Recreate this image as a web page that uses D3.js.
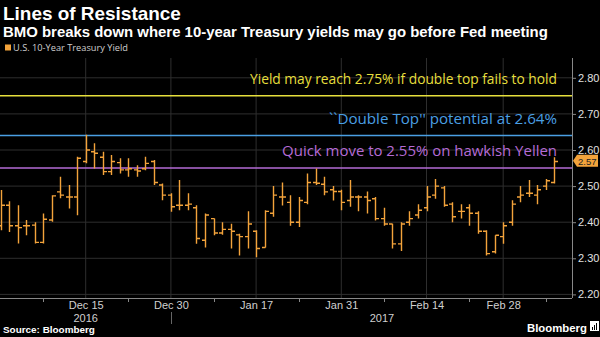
<!DOCTYPE html>
<html><head><meta charset="utf-8">
<script src="https://cdn.jsdelivr.net/npm/d3@7/dist/d3.min.js"></script>
<style>body{margin:0;background:#000;overflow:hidden}svg{display:block}</style>
</head><body><svg id="c" width="600" height="337"></svg>
<script>
// ---- data ----
const dates = ["2016-12-01","2016-12-02","2016-12-05","2016-12-06","2016-12-07","2016-12-08","2016-12-09","2016-12-12","2016-12-13","2016-12-14",
"2016-12-15","2016-12-16","2016-12-19","2016-12-20","2016-12-21","2016-12-22","2016-12-23","2016-12-27","2016-12-28","2016-12-29",
"2016-12-30","2017-01-03","2017-01-04","2017-01-05","2017-01-06","2017-01-09","2017-01-10","2017-01-11","2017-01-12","2017-01-13",
"2017-01-17","2017-01-18","2017-01-19","2017-01-20","2017-01-23","2017-01-24","2017-01-25","2017-01-26","2017-01-27","2017-01-30",
"2017-01-31","2017-02-01","2017-02-02","2017-02-03","2017-02-06","2017-02-07","2017-02-08","2017-02-09","2017-02-10","2017-02-13",
"2017-02-14","2017-02-15","2017-02-16","2017-02-17","2017-02-21","2017-02-22","2017-02-23","2017-02-24","2017-02-27","2017-02-28",
"2017-03-01","2017-03-02","2017-03-03","2017-03-06","2017-03-07","2017-03-08"];
const openY  = [2.39,2.447,2.39,2.39,2.392,2.344,2.406,2.484,2.47,2.47, 2.568,2.595,2.58,2.54,2.565,2.545,2.545,2.548,2.568,2.503,
2.475,2.447,2.447,2.44,2.35,2.41,2.37,2.38,2.365,2.36, 2.375,2.33,2.425,2.47,2.455,2.40,2.455,2.51,2.505,2.49,
2.485,2.46,2.47,2.47,2.465,2.41,2.395,2.34,2.40,2.42, 2.44,2.475,2.495,2.45,2.43,2.44,2.425,2.375,2.318,2.36,
2.40,2.47,2.48,2.475,2.50,2.51];
const highY  = [2.489,2.458,2.447,2.406,2.40,2.424,2.475,2.526,2.503,2.581, 2.642,2.619,2.595,2.586,2.577,2.577,2.558,2.581,2.572,2.507,
2.48,2.517,2.48,2.447,2.424,2.41,2.40,2.396,2.368,2.43, 2.378,2.433,2.50,2.51,2.475,2.47,2.535,2.549,2.526,2.50,
2.49,2.517,2.475,2.485,2.47,2.44,2.396,2.40,2.43,2.45, 2.50,2.52,2.50,2.455,2.45,2.45,2.43,2.378,2.364,2.40,
2.461,2.50,2.517,2.503,2.52,2.58];
const lowY   = [2.378,2.373,2.341,2.364,2.341,2.341,2.401,2.466,2.438,2.419, 2.563,2.549,2.531,2.531,2.535,2.526,2.526,2.544,2.503,2.461,
2.429,2.433,2.433,2.34,2.33,2.364,2.365,2.327,2.308,2.327, 2.303,2.33,2.415,2.446,2.39,2.387,2.45,2.503,2.475,2.46,
2.433,2.443,2.43,2.424,2.405,2.39,2.327,2.32,2.39,2.41, 2.43,2.465,2.443,2.40,2.41,2.39,2.368,2.308,2.313,2.34,
2.39,2.455,2.47,2.45,2.489,2.507];
const closeY = [2.447,2.39,2.385,2.39,2.344,2.408,2.473,2.475,2.47,2.577, 2.60,2.591,2.54,2.568,2.545,2.548,2.542,2.563,2.51,2.475,
2.443,2.447,2.45,2.355,2.42,2.37,2.38,2.375,2.36,2.395, 2.327,2.43,2.475,2.47,2.40,2.46,2.51,2.508,2.484,2.485,
2.455,2.47,2.47,2.46,2.41,2.395,2.34,2.395,2.41,2.433, 2.47,2.50,2.447,2.415,2.43,2.425,2.375,2.313,2.364,2.39,
2.45,2.475,2.48,2.49,2.515,2.568];
const yTicks = [2.20,2.30,2.40,2.50,2.60,2.70,2.80];
const xTickDates = ["2016-12-15","2016-12-30","2017-01-17","2017-01-31","2017-02-14","2017-02-28"];
const xTickLabels = ["Dec 15","Dec 30","Jan 17","Jan 31","Feb 14","Feb 28"];
const yearLabels = ["2016","2017"];
const refLevels = [2.75, 2.64, 2.55];
const refLabels = ["Yield may reach 2.75% if double top fails to hold","``Double Top'' potential at 2.64%","Quick move to 2.55% on hawkish Yellen"];
const refColors = ["#e6df3c","#4a9fe3","#b56bd6"];
const lastValue = 2.57;

// ---- layout ----
const svg = d3.select("#c");
svg.append("rect").attr("width",600).attr("height",337).attr("fill","#000");
const plotL = 0, plotR = 572, plotT = 58, plotB = 298;
const x = d3.scalePoint().domain(dates).range([0.5, 554.3]);
const y = d3.scaleLinear().domain([2.2, 2.8]).range([294.4, 77.8]);
const bars = dates.map((d,i)=>({d, o:openY[i], h:highY[i], l:lowY[i], c:closeY[i]}));
const ORANGE = "#f3a33b";
const SANS = "Liberation Sans, Arial, sans-serif";

function fit(sel, w){
  const len = sel.node().getComputedTextLength();
  const fs = parseFloat(sel.attr("font-size"));
  sel.attr("font-size", (fs*w/len).toFixed(2));
  return sel;
}

// titles
fit(svg.append("text").attr("x",3).attr("y",20).attr("font-family",SANS).attr("font-weight",700)
  .attr("font-size",20).attr("fill","#fff").text("Lines of Resistance"), 178);
fit(svg.append("text").attr("x",3).attr("y",37).attr("font-family",SANS).attr("font-weight",700)
  .attr("font-size",14).attr("fill","#fff").text("BMO breaks down where 10-year Treasury yields may go before Fed meeting"), 545);
svg.append("rect").attr("x",5).attr("y",44.5).attr("width",6).attr("height",6).attr("fill",ORANGE);
fit(svg.append("text").attr("x",13).attr("y",51).attr("font-family","Open Sans")
  .attr("font-size",9).attr("fill","#cfcfcf").text("U.S. 10-Year Treasury Yield"), 115);

// clip
svg.append("clipPath").attr("id","clip").append("rect").attr("x",plotL).attr("y",plotT).attr("width",plotR-plotL).attr("height",plotB-plotT);
const g = svg.append("g").attr("clip-path","url(#clip)");

// gridlines
g.selectAll("line.hg").data(yTicks).join("line").attr("class","hg")
  .attr("x1",plotL).attr("x2",plotR).attr("y1",d=>y(d)).attr("y2",d=>y(d))
  .attr("stroke","#2e2e2e").attr("stroke-width",1);
g.selectAll("line.vg").data(xTickDates).join("line").attr("class","vg")
  .attr("x1",d=>x(d)).attr("x2",d=>x(d)).attr("y1",plotT).attr("y2",plotB)
  .attr("stroke","#2e2e2e").attr("stroke-width",1);

// reference lines
g.selectAll("line.ref").data(refLevels).join("line").attr("class","ref")
  .attr("x1",plotL).attr("x2",plotR).attr("y1",d=>y(d)).attr("y2",d=>y(d))
  .attr("stroke",(d,i)=>refColors[i]).attr("stroke-width",1.5);
const refTargets = [307, 228, 275];
refLevels.forEach((v,i)=>{
  const t = svg.append("text").attr("x",557).attr("y",y(v)-12).attr("text-anchor","end")
    .attr("font-family","Open Sans").attr("font-size",14).attr("fill",refColors[i]).text(refLabels[i]);
  fit(t, refTargets[i]);
});

// OHLC bars
const bg = g.append("g").attr("stroke",ORANGE).attr("stroke-width",1.4).attr("fill","none");
bg.selectAll("path").data(bars).join("path")
  .attr("d", b => {
    const cx = Math.round(x(b.d)) + 0.5;
    return `M${cx},${y(b.h)}V${y(b.l)}M${cx-3.5},${y(b.o)}H${cx}M${cx},${y(b.c)}H${cx+3.5}`;
  });

// right axis
const yAxis = svg.append("g").attr("transform",`translate(${plotR},0)`)
  .call(d3.axisRight(y).tickValues(yTicks).tickFormat(d3.format(".2f")).tickSize(4).tickPadding(2));
yAxis.select(".domain").remove();
yAxis.selectAll("line").attr("stroke","#888");
yAxis.selectAll("text").attr("fill","#e0e0e0").attr("font-family",SANS).attr("font-size",11);
svg.append("line").attr("x1",plotR+0.5).attr("x2",plotR+0.5).attr("y1",plotT).attr("y2",plotB).attr("stroke","#888");

// bottom axis
svg.append("line").attr("x1",plotL).attr("x2",plotR).attr("y1",plotB+0.5).attr("y2",plotB+0.5).attr("stroke","#888");
const xAxis = svg.append("g").attr("transform",`translate(0,${plotB})`)
  .call(d3.axisBottom(x).tickValues(xTickDates).tickFormat((d,i)=>xTickLabels[i]).tickSize(0).tickPadding(3));
xAxis.select(".domain").remove();
xAxis.selectAll("text").attr("fill","#d0d0d0").attr("font-family",SANS).attr("font-size",11);
// minor ticks at midpoints
const mids = [5,15,25,35,45,55,64].map(i=>dates[i]);
svg.selectAll("line.mt").data(mids).join("line").attr("class","mt")
  .attr("x1",d=>Math.round(x(d))+0.5).attr("x2",d=>Math.round(x(d))+0.5).attr("y1",plotB).attr("y2",plotB+4).attr("stroke","#888");
// year labels
svg.append("text").attr("x",x(xTickDates[0])).attr("y",322).attr("text-anchor","middle")
  .attr("font-family",SANS).attr("font-size",11).attr("fill","#d0d0d0").text(yearLabels[0]);
svg.append("text").attr("x",382).attr("y",322).attr("text-anchor","middle")
  .attr("font-family",SANS).attr("font-size",11).attr("fill","#d0d0d0").text(yearLabels[1]);
svg.append("line").attr("x1",171.5).attr("x2",171.5).attr("y1",plotB+14).attr("y2",plotB+26).attr("stroke","#666");

// last value tag
const ly = y(lastValue);
svg.append("path").attr("d",`M${plotR+1},${ly}L${plotR+5},${ly-6}H598V${ly+6}H${plotR+5}Z`).attr("fill",ORANGE);
svg.append("text").attr("x",plotR+6).attr("y",ly+4).attr("font-family",SANS).attr("font-size",9.5)
  .attr("fill","#222").text(lastValue.toFixed(2));

// footer
fit(svg.append("text").attr("x",3).attr("y",333).attr("font-family",SANS).attr("font-weight",700)
  .attr("font-size",10).attr("fill","#fff").text("Source: Bloomberg"), 92);
fit(svg.append("text").attr("x",527).attr("y",332).attr("font-family",SANS).attr("font-weight",700)
  .attr("font-size",12).attr("fill","#fff").text("Bloomberg"), 60);
svg.append("rect").attr("x",590).attr("y",321).attr("width",9).attr("height",10).attr("fill","#fff");
[[592,327,1,3],[594,325,1,5],[596,323,1,7]].forEach(r=>svg.append("rect").attr("x",r[0]).attr("y",r[1]).attr("width",r[2]).attr("height",r[3]).attr("fill","#000"));
</script></body></html>
